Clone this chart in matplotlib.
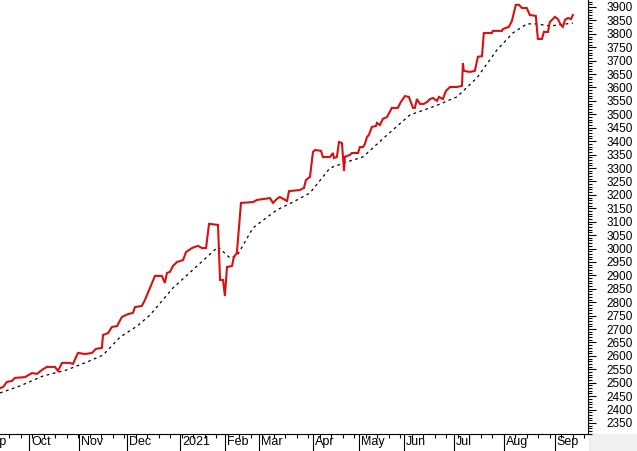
import numpy as np
import matplotlib
matplotlib.use("Agg")
import matplotlib.pyplot as plt
from matplotlib.ticker import FixedLocator, MultipleLocator, NullFormatter
from matplotlib.transforms import blended_transform_factory, ScaledTranslation
from matplotlib.patches import Rectangle

plt.rcParams['font.family'] = ['Liberation Sans', 'DejaVu Sans']

# x = trading-day index (weekends / holidays skipped)
priceX = [0, 1.3, 3.0, 5.2, 6.5, 10.9, 13.9, 16.1, 18.3, 20.4, 23.9, 25.2, 27.0, 30.4, 31.7,
          33.9, 37.0, 40.0, 41.7, 44.3, 44.8, 47.0, 48.7, 50.9, 53.0, 55.7, 57.8, 58.7, 61.7,
          63.0, 65.2, 67.4, 70.4, 71.7, 72.6, 73.9, 75.2, 77.0, 79.6, 80.9, 83.5, 86.1, 87.8,
          89.6, 90.9, 94.8, 95.7, 97.0, 97.8, 98.7, 100.9, 101.7, 103.0, 104.8, 110.0, 111.7,
          117.4, 118.7, 120.4, 121.7, 124.8, 125.7, 130.4, 132.2, 133.0, 134.8, 136.1, 137.0,
          139.6, 140.4, 143.5, 144.8, 145.2, 146.5, 147.4, 148.7, 149.6, 150.0, 152.2, 153.0,
          155.7, 156.5, 157.8, 158.7, 159.6, 160.4, 161.7, 163.5, 163.9, 165.2, 166.5, 168.3,
          170.4, 173.0, 174.3, 176.1, 177.8, 179.6, 180.4, 181.3, 182.6, 184.3, 185.7, 187.0,
          188.3, 190.0, 190.9, 192.6, 193.9, 195.7, 198.7, 200.9, 201.3, 201.7, 204.3, 206.5,
          207.8, 209.6, 210.4, 213.9, 214.3, 218.3, 218.7, 221.3, 222.6, 224.3, 225.7, 227.0,
          229.1, 230.4, 233.0, 233.9, 235.7, 236.5, 238.3, 239.1, 241.3, 242.6, 243.9, 244.8,
          245.7, 247.0, 248.3, 249.1]
priceV = [2480, 2484, 2503, 2507, 2518, 2521, 2536, 2533, 2548, 2559, 2559, 2544, 2574, 2574, 2570,
          2611, 2607, 2611, 2626, 2630, 2678, 2685, 2708, 2711, 2745, 2756, 2760, 2782, 2786,
          2808, 2853, 2898, 2898, 2872, 2909, 2913, 2935, 2950, 2957, 2987, 3002, 3010, 3002,
          3002, 3092, 3088, 2883, 2883, 2823, 2931, 2935, 2969, 2983, 3170, 3173, 3181,
          3188, 3170, 3185, 3192, 3177, 3214, 3218, 3226, 3255, 3267, 3360, 3367,
          3364, 3341, 3341, 3356, 3337, 3341, 3397, 3393, 3289, 3342, 3349, 3356,
          3356, 3378, 3378, 3390, 3416, 3423, 3453, 3457, 3468, 3460, 3483, 3490,
          3524, 3524, 3546, 3568, 3565, 3524, 3524, 3557, 3539, 3539, 3546, 3557,
          3561, 3550, 3565, 3557, 3587, 3602, 3602, 3606, 3691, 3662, 3658, 3662,
          3714, 3717, 3803, 3803, 3811, 3811, 3818, 3826, 3848, 3908, 3908, 3896,
          3896, 3870, 3867, 3781, 3781, 3807, 3807, 3844, 3863, 3855, 3833, 3826,
          3852, 3859, 3855, 3870]

# moving average (dashed)
avgX = [0, 8.7, 18.7, 29.1, 37.8, 44.8, 52.2, 59.6, 65.2, 75.2, 94.8, 100.0, 103.0, 110.0,
        120.4, 127.4, 134.8, 143.5, 150.9, 157.8, 168.3, 178.3, 187.0, 190.4, 198.7, 207.4,
        216.1, 223.0, 229.1, 233.5, 239.1, 249.1]
avgV = [2462, 2488, 2525, 2548, 2577, 2603, 2670, 2711, 2752, 2853, 3006, 2965, 2972, 3077,
        3144, 3173, 3207, 3300, 3323, 3341, 3423, 3498, 3524, 3535, 3565, 3636,
        3740, 3803, 3837, 3837, 3829, 3840]

monthPos = [12.6, 34.3, 55.2, 78.3, 97.8, 112.6, 136.1, 156.1, 175.7, 197.4, 219.1, 241.3]
monthLbl = ['Oct', 'Nov', 'Dec', '2021', 'Feb', 'Mar', 'Apr', 'May', 'Jun', 'Jul', 'Aug', 'Sep']

W, H = 637, 451
fig = plt.figure(figsize=(W / 100, H / 100), dpi=100)
ax = fig.add_axes([0, 17 / H, 588 / W, 1 - 17 / H])

ax.plot(avgX, avgV, color='black', lw=0.9, dashes=(2.2, 2.8))
ax.plot(priceX, priceV, color='#d81010', lw=1.5, solid_joinstyle='miter')

ax.set_xlim(0, 255.7)
ax.set_ylim(2309, 3926)

for s in ['left', 'top']:
    ax.spines[s].set_visible(False)
for s in ['right', 'bottom']:
    ax.spines[s].set_linewidth(0.8)

# y axis on the right
ax.yaxis.tick_right()
ax.yaxis.set_major_locator(MultipleLocator(50))
ax.yaxis.set_minor_locator(MultipleLocator(10))
ax.tick_params(axis='y', which='major', direction='out', length=5.8, width=0.8,
               pad=7.5, labelsize=8.5)
ax.tick_params(axis='y', which='minor', direction='out', length=2.9, width=0.8)

# x axis: long month ticks, short weekly ticks, labels right of the tick
ax.xaxis.set_major_locator(FixedLocator(monthPos))
ax.xaxis.set_major_formatter(NullFormatter())
ax.xaxis.set_minor_locator(MultipleLocator(5, offset=4))
ax.tick_params(axis='x', which='major', direction='out', length=12.5, width=0.8)
ax.tick_params(axis='x', which='minor', direction='out', length=3, width=0.8)

trans = blended_transform_factory(ax.transData, ax.transAxes) + \
    ScaledTranslation(2 / 100, -2 / 100, fig.dpi_scale_trans)
for p, l in zip(monthPos, monthLbl):
    ax.text(p, 0, l, transform=trans, ha='left', va='top', fontsize=9)
# cut-off "Sep" of the previous year at the left edge
ax.text(-7.8, 0, 'Sep', transform=trans, ha='left', va='top', fontsize=9, clip_on=False)

fig.patches.append(Rectangle((589 / W, 0), 1 - 589 / W, 17 / H, transform=fig.transFigure,
                             color='#f0f0f0', zorder=-1))

fig.savefig('out.png', dpi=100)
